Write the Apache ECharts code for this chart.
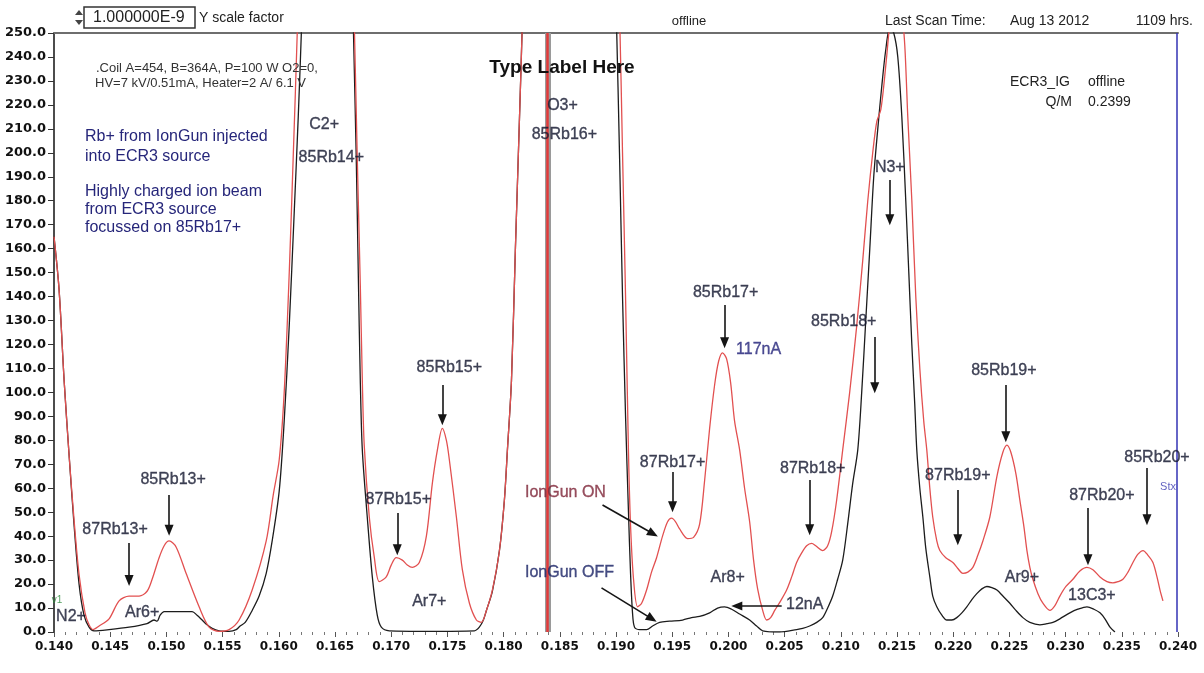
<!DOCTYPE html>
<html><head><meta charset="utf-8">
<script src="https://cdn.jsdelivr.net/npm/echarts@6/dist/echarts.min.js"></script>
<style>html,body{margin:0;padding:0;background:#fff}#c{width:1204px;height:673px}</style>
</head><body><div id="c"></div>
<script>
// ---- data: Q/M (x) and beam current in nA (y) ----
const ionGunOn = [
[0.1400,165],[0.14045,143],[0.1409,105],[0.14134,74],[0.14178,47],[0.14223,24],[0.14276,8],[0.14312,3],[0.14347,1],[0.14401,2.5],[0.1449,5.5],[0.14579,13],[0.14668,15],[0.14757,15],[0.14828,17],[0.14873,22],[0.14935,31],[0.1498,36],[0.15024,38],[0.15086,35.5],[0.15175,24.5],[0.15291,10.5],[0.1538,2],[0.15469,0.3],[0.15558,1],[0.15647,5],[0.15763,17.5],[0.15888,38],[0.1595,57],[0.16004,72],[0.16048,100],[0.16093,150],[0.16128,198],[0.16164,250],[0.16208,330],[0.16315,450],[0.16449,500],[0.16582,450],[0.16627,330],[0.16671,255],[0.16698,198],[0.16725,145],[0.16743,105],[0.1676,78],[0.16805,48],[0.1685,31],[0.16894,21],[0.16956,23],[0.17001,28],[0.17045,31],[0.17099,30],[0.17143,28],[0.17188,27],[0.1725,29],[0.17313,40],[0.17366,62],[0.17411,76],[0.17455,85],[0.17491,80],[0.17517,72],[0.1758,48],[0.17633,26],[0.17696,12],[0.17758,5],[0.17802,4],[0.17847,9],[0.179,17.5],[0.17963,34],[0.18007,55],[0.18034,76],[0.1807,105],[0.18105,160],[0.18141,214],[0.18167,255],[0.18212,350],[0.18319,550],[0.18586,650],[0.18853,550],[0.18987,330],[0.19031,260],[0.19058,200],[0.19085,140],[0.19111,75],[0.19129,45],[0.19156,22],[0.19192,10.5],[0.19228,12],[0.19272,17.5],[0.19316,25],[0.19361,31],[0.19414,40],[0.19459,46],[0.19495,47.5],[0.1953,46],[0.19566,43],[0.19637,39],[0.1969,39.5],[0.19744,45],[0.19788,63],[0.19833,85],[0.19877,103],[0.19913,113],[0.19948,116.5],[0.19984,114],[0.2002,104],[0.20055,88],[0.201,76],[0.20144,60],[0.20189,46],[0.20224,30],[0.2026,18],[0.20305,9],[0.2034,5],[0.20376,6],[0.20412,9],[0.20465,13],[0.20518,17.5],[0.20563,23],[0.20607,29],[0.20652,33],[0.20696,36],[0.20741,37],[0.20777,36],[0.20839,34],[0.20883,36],[0.20919,42],[0.20963,55],[0.21017,76],[0.21079,100],[0.21142,128],[0.21195,155],[0.2124,180],[0.21284,200],[0.2132,213],[0.21356,218],[0.21391,232],[0.21427,250],[0.21462,270],[0.21498,280],[0.21534,265],[0.21569,245],[0.21596,215],[0.21632,180],[0.21667,140],[0.21703,110],[0.21738,88],[0.21765,76],[0.21792,60],[0.21818,48],[0.21854,38],[0.21881,34],[0.21934,31],[0.21997,29],[0.22041,26.5],[0.22086,24.5],[0.2213,25],[0.22175,27],[0.22219,32],[0.22264,38],[0.22326,48],[0.22389,65],[0.22442,75],[0.22478,78],[0.22513,75],[0.22558,66],[0.22593,55],[0.22629,44],[0.22656,34],[0.22682,27],[0.22709,22],[0.22754,16],[0.22798,12],[0.2286,9],[0.22905,11],[0.22949,15],[0.23003,19],[0.23065,22],[0.23127,25.5],[0.2319,27],[0.23243,26],[0.23306,23],[0.23368,21],[0.23421,20.5],[0.23466,21],[0.2351,22],[0.23555,25],[0.23599,29],[0.23644,32.5],[0.23689,34],[0.23733,32],[0.23777,29],[0.23813,23],[0.2384,17.5],[0.23866,13]
];
const ionGunOff = [
[0.14,165],[0.14045,143],[0.1409,105],[0.14134,74],[0.14178,45],[0.14223,20],[0.14267,7],[0.14312,2],[0.14356,0.5],[0.1449,1],[0.14668,2],[0.14828,3.5],[0.1489,5],[0.14917,4.5],[0.14944,7],[0.1498,8.5],[0.15113,8.5],[0.15229,8.5],[0.15273,7],[0.15318,5],[0.15362,3],[0.15407,1.5],[0.15469,0.5],[0.15558,0.3],[0.15621,1],[0.15656,2.5],[0.15701,4],[0.15763,9],[0.15825,15],[0.15888,24.5],[0.15941,38],[0.16004,59],[0.16048,88],[0.16093,128],[0.16137,175],[0.16173,215],[0.16208,260],[0.16253,330],[0.16449,480],[0.16582,430],[0.16627,330],[0.16662,255],[0.16689,198],[0.16707,150],[0.16725,105],[0.16743,76],[0.16787,48],[0.16832,23],[0.16876,7],[0.16912,2],[0.16983,0.5],[0.17339,0.3],[0.1774,0.5],[0.17784,2],[0.1782,5],[0.17847,9],[0.179,17],[0.17963,34],[0.18007,55],[0.18034,76],[0.1807,105],[0.18105,160],[0.18141,214],[0.18167,255],[0.18212,340],[0.18586,620],[0.18898,400],[0.1896,330],[0.19004,255],[0.19031,200],[0.19058,140],[0.19085,90],[0.19111,50],[0.19129,25],[0.19147,8],[0.19165,2],[0.1921,1],[0.19272,1],[0.19326,2.5],[0.19388,4],[0.19477,4.5],[0.19592,5],[0.19672,6],[0.19744,6.5],[0.19833,8],[0.19904,10],[0.19966,10.5],[0.20029,9.5],[0.201,7.5],[0.20189,5],[0.20251,2.5],[0.20305,0.5],[0.20456,0],[0.20607,1],[0.20661,1.5],[0.20723,2.5],[0.20786,4],[0.20839,6],[0.20883,10],[0.20928,15],[0.20972,22],[0.21017,30],[0.21061,45],[0.21106,62],[0.21151,76],[0.21186,100],[0.21222,130],[0.21258,160],[0.21293,190],[0.21329,210],[0.21365,228],[0.214,243],[0.21436,252],[0.21471,250],[0.21507,240],[0.21543,215],[0.21578,180],[0.21605,150],[0.21632,120],[0.21658,95],[0.21676,76],[0.21703,60],[0.2173,48],[0.21756,35],[0.21792,23],[0.21818,15],[0.21854,10.5],[0.21899,7],[0.21943,5],[0.21988,5],[0.22032,6],[0.22077,8],[0.22121,10.5],[0.22166,13.5],[0.2221,16],[0.22255,18],[0.22299,19],[0.22344,18.5],[0.22389,17.5],[0.22442,15],[0.22504,12],[0.22558,9],[0.2262,6],[0.22682,4],[0.22771,3],[0.22834,3.5],[0.22887,4],[0.22949,5.5],[0.23038,8],[0.23109,9.5],[0.2319,10.5],[0.23252,9.5],[0.23306,8],[0.2335,5.5],[0.23395,2],[0.23439,0]
];
// peak labels (text, Q/M, current)
const annoText = ["C2+","85Rb14+","O3+","85Rb16+","N3+","85Rb17+","117nA","85Rb18+","85Rb15+","85Rb19+","85Rb20+","87Rb17+","87Rb18+","87Rb19+","87Rb20+","87Rb15+","85Rb13+","87Rb13+","IonGun ON","IonGun OFF","Ar6+","Ar7+","Ar8+","Ar9+","13C3+","12nA","N2+","v1","Stx"];
const annoQ = [0.16404,0.16467,0.18524,0.18541,0.21436,0.19975,0.20269,0.21026,0.17517,0.22451,0.23813,0.19503,0.2075,0.22041,0.23323,0.17063,0.1506,0.14543,0.1855,0.18586,0.14784,0.17339,0.19993,0.22611,0.23234,0.20679,0.14151,0.14027,0.23911];
const annoV = [211.6,198.2,219.5,207.4,193.7,141.5,117.7,129.4,110.2,109.3,72.6,70.5,68.4,65.1,56.8,55.1,63.4,42.6,58.0,25.0,8.3,12.5,22.5,22.5,15.4,11.3,6.3,13.4,60.5];
// arrows: start and tip (Q/M, current)
const arrowFrom = [[0.14668,37.1],[0.15024,57.2],[0.17054,49.7],[0.17455,103.1],[0.1888,53.0],[0.18871,18.4],[0.19503,66.8],[0.19966,136.5],[0.20723,63.4],[0.21302,123.1],[0.21436,188.6],[0.22041,59.3],[0.22468,103.1],[0.23199,51.8],[0.23724,68.4],[0.20474,10.9]];
const arrowTo = [[0.14668,21.5],[0.15024,42.5],[0.17054,34.3],[0.17455,88.6],[0.1933,41],[0.1932,5.5],[0.19503,52.3],[0.19966,120.7],[0.20723,42.7],[0.21302,101.9],[0.21436,172.1],[0.22041,38.5],[0.22468,81.5],[0.23199,30.2],[0.23724,46.9],[0.20075,10.9]];
const cursorRed = 0.1839;
const cursorBlue = 0.2399;
const xTickFmt = 3, yTickFmt = 1;

// ---- chart ----
const chart = echarts.init(document.getElementById('c'), null, {renderer:'canvas'});
const sans = '"Liberation Sans", Arial, sans-serif';
const axisFont = '"DejaVu Sans", Verdana, sans-serif';

function annoLabel(t){
  const s = {color:'#141830', fontSize:16, fontFamily:sans, textBorderColor:'#141830', textBorderWidth:0.35};
  if (t === 'IonGun ON') { s.color = s.textBorderColor = '#7e2638'; }
  if (t === 'IonGun OFF') { s.color = s.textBorderColor = '#1c2466'; }
  if (t === '117nA') { s.color = s.textBorderColor = '#24247a'; }
  if (t === 'v1') { s.color = '#2a8a3a'; s.fontSize = 10; s.textBorderWidth = 0; }
  if (t === 'Stx') { s.color = '#3a3ab0'; s.fontSize = 11; s.textBorderWidth = 0; }
  return s;
}

const annoData = annoText.map((t,i)=>({value:[annoQ[i], annoV[i]], name:t, label:annoLabel(t)}));
const arrowData = arrowFrom.map((f,i)=>[{coord:f},{coord:arrowTo[i]}]);

const txt = (x,y,text,opt)=>Object.assign({type:'text', x, y, silent:true, z:100,
  style:Object.assign({text, fill:'#222', font:'14px '+sans, textVerticalAlign:'middle'}, opt||{})});

const option = {
  animation:false,
  backgroundColor:'#fff',
  grid:{left:54,right:26,top:33,bottom:41,outerBoundsMode:'none'},
  xAxis:[{
    type:'value',min:0.14,max:0.24,interval:0.005,
    axisLine:{show:false},
    axisTick:{show:true,length:5,lineStyle:{color:'#555',width:1}},
    minorTick:{show:true,splitNumber:5,length:3,lineStyle:{color:'#777',width:1}},
    splitLine:{show:false},minorSplitLine:{show:false},
    axisLabel:{formatter:v=>v.toFixed(xTickFmt),fontFamily:axisFont,fontWeight:'bold',fontSize:12,color:'#111',margin:9}
  },{
    type:'value',position:'top',min:0.14,max:0.24,
    axisLine:{show:true,lineStyle:{color:'#6e6e6e',width:2}},
    axisTick:{show:false},axisLabel:{show:false},splitLine:{show:false}
  }],
  yAxis:{
    type:'value',min:0,max:250,interval:10,
    axisLine:{show:true,lineStyle:{color:'#111',width:1.5}},
    axisTick:{show:true,length:6,lineStyle:{color:'#333',width:1}},
    splitLine:{show:false},
    axisLabel:{formatter:v=>v.toFixed(yTickFmt),fontFamily:axisFont,fontWeight:'bold',fontSize:13,color:'#111',margin:8}
  },
  series:[
    {
      name:'IonGun OFF',type:'line',data:ionGunOff,showSymbol:false,smooth:0.3,z:2,
      lineStyle:{color:'#1c1c1c',width:1.3},
      markLine:{silent:true,precision:6,symbol:['none','none'],label:{show:false},
        data:[
          {xAxis:cursorRed,lineStyle:{color:'#9a9a9a',width:6,type:'solid'}},
          {xAxis:cursorRed,lineStyle:{color:'#e23a3a',width:2.5,type:'solid'}},
          {xAxis:cursorBlue,lineStyle:{color:'#3333b5',width:1.5,type:'solid'}}
        ]}
    },
    {
      name:'IonGun ON',type:'line',data:ionGunOn,showSymbol:false,smooth:0.3,z:3,
      lineStyle:{color:'#e25050',width:1.3}
    },
    {
      name:'labels',type:'scatter',data:annoData,symbolSize:1,z:5,silent:true,
      itemStyle:{color:'rgba(0,0,0,0)'},
      label:{show:true,position:'inside',formatter:p=>p.name},
      markLine:{silent:true,precision:6,symbol:['none','triangle'],symbolSize:[9,11],label:{show:false},
        lineStyle:{color:'#151515',width:1.6,type:'solid'},data:arrowData}
    }
  ],
  graphic:[
    {type:'polygon',silent:true,shape:{points:[[75,15],[79,10],[83,15]]},style:{fill:'#444'}},
    {type:'polygon',silent:true,shape:{points:[[75,20],[79,25],[83,20]]},style:{fill:'#444'}},
    {type:'rect',silent:true,shape:{x:84,y:7,width:111,height:21},style:{fill:'#fff',stroke:'#333',lineWidth:1.5}},
    txt(93,18,'1.000000E-9',{font:'16px '+sans}),
    txt(199,18,'Y scale factor'),
    txt(689,21,'offline',{font:'13px '+sans,textAlign:'center'}),
    txt(885,21,'Last Scan Time:'),
    txt(1010,21,'Aug 13 2012'),
    txt(1193,21,'1109 hrs.',{textAlign:'right'}),
    txt(96,68,'.Coil A=454, B=364A, P=100 W O2=0,',{font:'13px '+sans,fill:'#333'}),
    txt(95,83,'HV=7 kV/0.51mA, Heater=2 A/ 6.1 V',{font:'13px '+sans,fill:'#333'}),
    txt(562,68,'Type Label Here',{font:'bold 19px '+sans,fill:'#111',textAlign:'center'}),
    txt(85,137,'Rb+ from IonGun injected',{font:'16px '+sans,fill:'#26267a'}),
    txt(85,157,'into ECR3 source',{font:'16px '+sans,fill:'#26267a'}),
    txt(85,192,'Highly charged ion beam',{font:'16px '+sans,fill:'#26267a'}),
    txt(85,210,'from ECR3 source',{font:'16px '+sans,fill:'#26267a'}),
    txt(85,228,'focussed on 85Rb17+',{font:'16px '+sans,fill:'#26267a'}),
    txt(1010,82,'ECR3_IG'),
    txt(1088,82,'offline'),
    txt(1072,102,'Q/M',{textAlign:'right'}),
    txt(1088,102,'0.2399')
  ]
};
chart.setOption(option);
</script></body></html>
